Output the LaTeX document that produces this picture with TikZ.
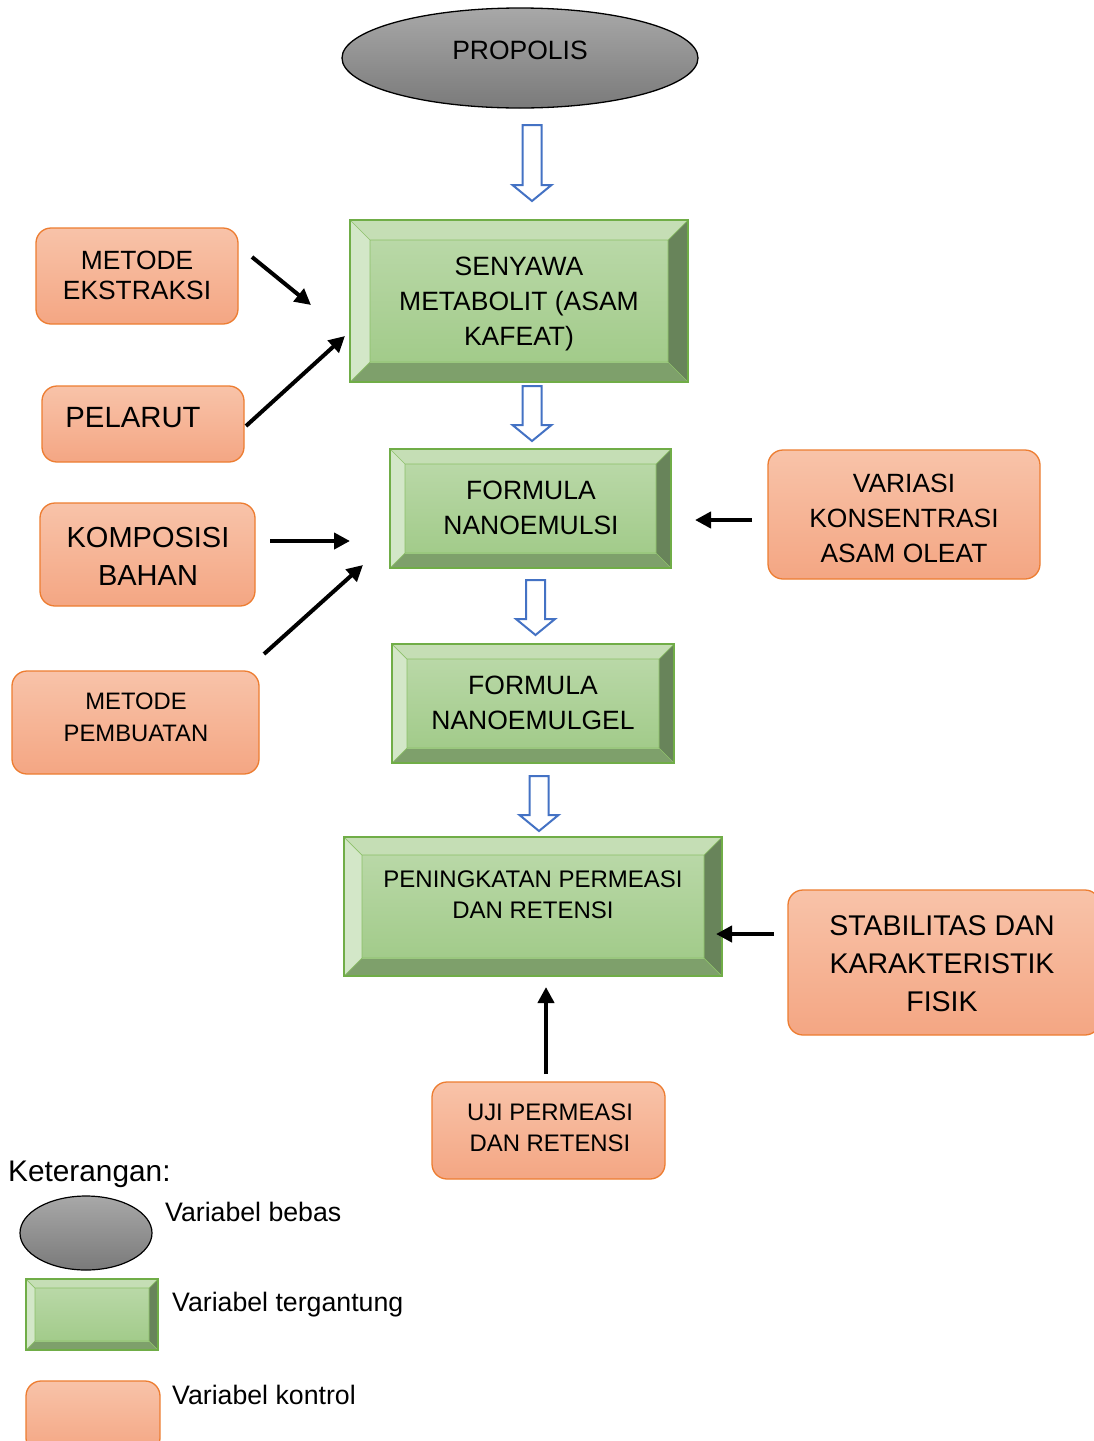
\documentclass[tikz,border=0pt]{standalone}
\usepackage{fontspec}
\setmainfont{Liberation Sans}
\usetikzlibrary{arrows.meta,shapes.geometric}
\definecolor{oraedge}{HTML}{ED7D31}
\definecolor{oratop}{HTML}{F8C3A9}
\definecolor{orabot}{HTML}{F4A683}
\definecolor{grnedge}{HTML}{70AD47}
\definecolor{grnin}{HTML}{8CC068}
\definecolor{grntop}{HTML}{B9D8A7}
\definecolor{grnbot}{HTML}{A2CB8A}
\definecolor{bvT}{HTML}{C5DEB5}
\definecolor{bvL}{HTML}{D3E7C8}
\definecolor{bvR}{HTML}{68845A}
\definecolor{bvB}{HTML}{7EA06B}
\definecolor{graytop}{HTML}{A8A8A8}
\definecolor{graybot}{HTML}{7A7A7A}
\definecolor{holblue}{HTML}{4472C4}
\newcommand\bevelbox[6]{%
 \fill[bvT] (#2,#3) -- (#4,#3) -- (#4-#6,#3+#6) -- (#2+#6,#3+#6) -- cycle;
 \fill[bvL] (#2,#3) -- (#2+#6,#3+#6) -- (#2+#6,#5-#6) -- (#2,#5) -- cycle;
 \fill[bvR] (#4,#3) -- (#4,#5) -- (#4-#6,#5-#6) -- (#4-#6,#3+#6) -- cycle;
 \fill[bvB] (#2,#5) -- (#2+#6,#5-#6) -- (#4-#6,#5-#6) -- (#4,#5) -- cycle;
 \shade[top color=grntop, bottom color=grnbot] (#2+#6,#3+#6) rectangle (#4-#6,#5-#6);
 \draw[grnin, line width=0.7pt] (#2+#6,#3+#6) rectangle (#4-#6,#5-#6)
   (#2,#3) -- (#2+#6,#3+#6) (#4,#3) -- (#4-#6,#3+#6)
   (#2,#5) -- (#2+#6,#5-#6) (#4,#5) -- (#4-#6,#5-#6);
 \draw[grnedge, line width=1.4pt] (#2,#3) rectangle (#4,#5);
 \node[inner sep=0pt, minimum width={#4-#2}, minimum height={#5-#3}] (#1) at ({(#2+#4)/2},{(#3+#5)/2}) {};
}
\newcommand\holarrow[4]{% name, x center, y top, y tip
 \draw[hol] (#2-9.5,#3) -- (#2+9.5,#3) -- (#2+9.5,#4-16) -- (#2+19.5,#4-16) -- (#2,#4) -- (#2-19.5,#4-16) -- (#2-9.5,#4-16) -- cycle;
 \coordinate (#1) at (#2,#4);
}
\tikzset{
 ora/.style={rounded corners=15pt, draw=oraedge, line width=1.3pt, top color=oratop, bottom color=orabot, inner sep=0pt},
 txt/.style={align=center, inner sep=0pt},
 blk/.style={line width=4pt, -{Triangle[length=16pt,width=16pt]}},
 hol/.style={draw=holblue, line width=2pt, fill=white, line join=miter},
}
\newcommand\fs[2]{\fontsize{#1}{#2}\selectfont}
\begin{document}
\begin{tikzpicture}[x=1pt,y=-1pt]
\useasboundingbox (0,0) rectangle (1093,1441);
\fill[white] (0,0) rectangle (1093,1441);

% PROPOLIS
\node[ellipse, draw=black, line width=1.3pt, top color=graytop, bottom color=graybot, minimum width=356, minimum height=100, inner sep=0pt] (propolis) at (520,58) {};
\node[txt, font=\fs{26.5}{31}] (propolisT) at (520,50) {PROPOLIS};

% hollow arrows
\holarrow{h1}{532}{125}{201}
\holarrow{h2}{532}{386}{441}
\holarrow{h3}{535.5}{580}{635}
\holarrow{h4}{539}{776}{831}

% green bevel boxes
\bevelbox{senyawa}{350}{220}{688}{382}{20}
\node[txt, font=\fs{26.5}{35}] (senyawaT) at (519,304) {SENYAWA\\METABOLIT (ASAM\\KAFEAT)};
\bevelbox{nanoemulsi}{390}{449}{671}{568}{15}
\node[txt, font=\fs{26.5}{35}] (nanoemulsiT) at (531,507.5) {FORMULA\\NANOEMULSI};
\bevelbox{nanoemulgel}{392}{644}{674}{763}{15}
\node[txt, font=\fs{26.5}{35}] (nanoemulgelT) at (533,702.5) {FORMULA\\NANOEMULGEL};
\bevelbox{peningkatan}{344}{837}{722}{976}{18}
\node[txt, font=\fs{24}{31}] (peningkatanT) at (533,895) {PENINGKATAN PERMEASI\\DAN RETENSI};

% orange boxes
\node[ora, minimum width=202, minimum height=96] (ekstraksi) at (137,276) {};
\node[txt, font=\fs{26.4}{30}] (ekstraksiT) at (137,275) {METODE\\EKSTRAKSI};
\node[ora, minimum width=202, minimum height=76] (pelarut) at (143,424) {};
\node[txt, font=\fs{29.3}{34}] (pelarutT) at (133,418) {PELARUT};
\node[ora, minimum width=215, minimum height=103] (komposisi) at (147.5,554.5) {};
\node[txt, font=\fs{29}{38}] (komposisiT) at (148,556) {KOMPOSISI\\BAHAN};
\node[ora, minimum width=247, minimum height=103] (pembuatan) at (135.5,722.5) {};
\node[txt, font=\fs{23.8}{32}] (pembuatanT) at (136,717) {METODE\\PEMBUATAN};
\node[ora, minimum width=272, minimum height=129] (variasi) at (904,514.5) {};
\node[txt, font=\fs{26.4}{35}] (variasiT) at (904,518) {VARIASI\\KONSENTRASI\\ASAM OLEAT};
\node[ora, minimum width=312, minimum height=145] (stabilitas) at (944,962.5) {};
\node[txt, font=\fs{28.5}{38}] (stabilitasT) at (942,964) {STABILITAS DAN\\KARAKTERISTIK\\FISIK};
\node[ora, minimum width=233, minimum height=97] (uji) at (548.5,1130.5) {};
\node[txt, font=\fs{23.9}{31}] (ujiT) at (550,1128) {UJI PERMEASI\\DAN RETENSI};

% black arrows
\coordinate (a1s) at (252,257); \coordinate (a1e) at (311,305);
\coordinate (a2s) at (246,426); \coordinate (a2e) at (345,336);
\coordinate (a3s) at (270,541); \coordinate (a3e) at (350,541);
\coordinate (a4s) at (264,654); \coordinate (a4e) at (363,565);
\coordinate (a5s) at (752,520); \coordinate (a5e) at (695,520);
\coordinate (a6s) at (774,934); \coordinate (a6e) at (716,934);
\coordinate (a7s) at (546,1074); \coordinate (a7e) at (546,987);
\foreach \i in {1,...,7} {\draw[blk] (a\i s) -- (a\i e);}

% legend
\node[txt, font=\fs{29.8}{34}, anchor=west] (ket) at (8,1174) {Keterangan:};
\node[ellipse, draw=black, line width=1.2pt, top color=graytop, bottom color=graybot, minimum width=132, minimum height=74, inner sep=0pt] (legE) at (86,1233) {};
\node[txt, font=\fs{26.7}{31}, anchor=west] (legET) at (165,1212) {Variabel bebas};
\bevelbox{legG}{26}{1279}{158}{1350}{9}
\node[txt, font=\fs{26.7}{31}, anchor=west] (legGT) at (172,1305) {Variabel tergantung};
\node[ora, minimum width=134, minimum height=72] (legO) at (93,1417) {};
\node[txt, font=\fs{26.7}{31}, anchor=west] (legOT) at (172,1395) {Variabel kontrol};
\end{tikzpicture}
\end{document}
